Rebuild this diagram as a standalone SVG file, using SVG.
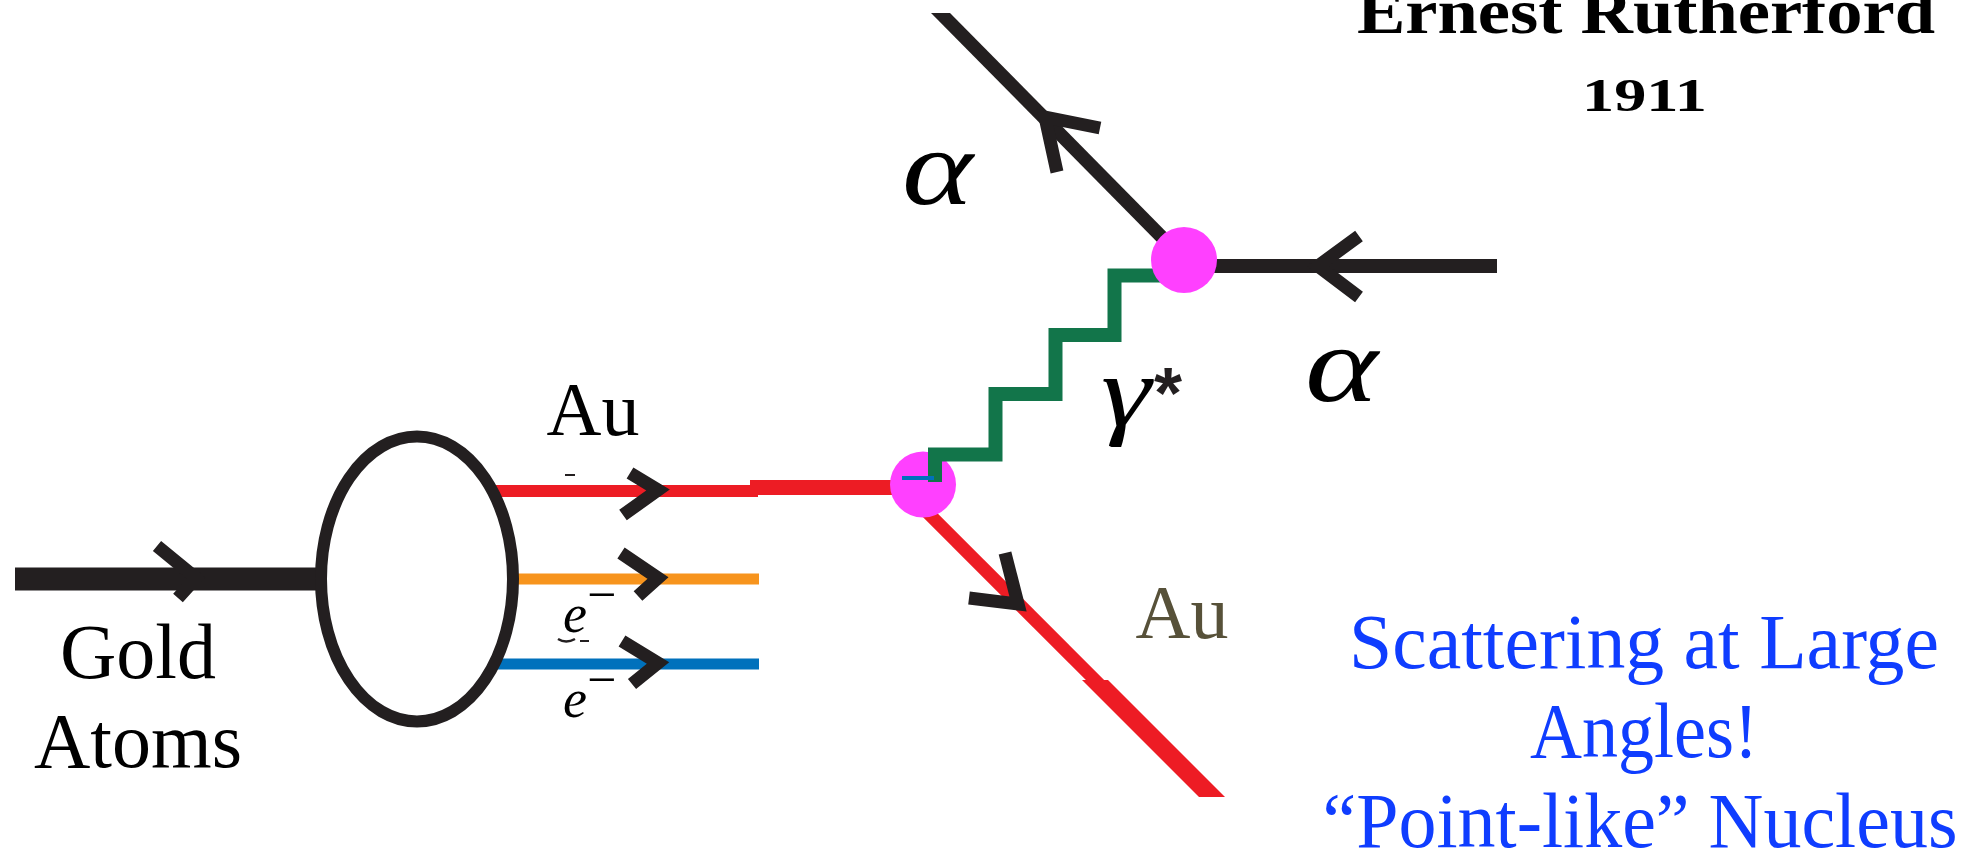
<svg xmlns="http://www.w3.org/2000/svg" width="1968" height="852" viewBox="0 0 1968 852">
  <style>
    .lbl { font-family: "Liberation Serif", "Times New Roman", serif; fill: #000; }
    .math { font-family: "Liberation Serif", "Times New Roman", serif; font-style: italic; fill: #000; }
    .blue { font-family: "Liberation Serif", "Times New Roman", serif; fill: #0f3dff; font-size: 78px; text-anchor: middle; }
    .chev { fill: none; stroke: #231f20; stroke-width: 13; stroke-linejoin: miter; stroke-miterlimit: 10; stroke-linecap: butt; }
    .blk { stroke: #231f20; stroke-linecap: butt; }
    .vtx { fill: #ff40ff; }
  </style>
  <rect width="1968" height="852" fill="#ffffff"/>

  <g id="connectors">
    <!-- incoming gold atom line -->
    <line class="blk" x1="15" y1="579" x2="322" y2="579" stroke-width="23"/>
    <polyline class="chev" points="157,546 196,578 178,598"/>
    <!-- outgoing Au (red) -->
    <line x1="490" y1="491" x2="758" y2="491" stroke="#ed1c24" stroke-width="12"/>
    <line x1="750" y1="487.5" x2="900" y2="487.5" stroke="#ed1c24" stroke-width="15"/>
    <polyline class="chev" points="630,473 658,490 623,515"/>
    <!-- outgoing electrons -->
    <line x1="490" y1="579" x2="759" y2="579" stroke="#f7941d" stroke-width="11"/>
    <polyline class="chev" points="621,553 658,578 638,596"/>
    <line x1="490" y1="664" x2="759" y2="664" stroke="#0071bc" stroke-width="11"/>
    <polyline class="chev" points="622,641 658,663 632,684"/>
    <!-- scattered Au (red diagonal) -->
    <line x1="915" y1="500" x2="1100" y2="685" stroke="#ed1c24" stroke-width="13"/>
    <polygon points="1082,680 1108,680 1225,797 1199,797" fill="#ed1c24"/>
    <polyline class="chev" points="1005,553 1018,604 969,598"/>
    <!-- incoming alpha (right) -->
    <line class="blk" x1="1180" y1="266" x2="1497" y2="266" stroke-width="14"/>
    <polyline class="chev" points="1359,236 1318,266 1359,297"/>
    <!-- outgoing alpha (upper left) -->
    <polygon points="931,13 950,13 1184,250 1165,250" fill="#231f20"/>
    <polyline class="chev" points="1100,128 1045,117 1057,172"/>
    <!-- small residual marks -->
    <line x1="565" y1="475" x2="575" y2="475" stroke="#231f20" stroke-width="2"/>
    <path d="M558,639 Q566,644 575,639" fill="none" stroke="#231f20" stroke-width="2.5"/>
    <line x1="580" y1="641" x2="589" y2="641" stroke="#231f20" stroke-width="2"/>
  </g>

  <g id="atom">
    <ellipse cx="417" cy="579" rx="96" ry="142.5" fill="#ffffff" stroke="#231f20" stroke-width="12"/>
  </g>

  <g id="vertex-lower">
    <circle class="vtx" cx="923" cy="484.5" r="33"/>
  </g>

  <g id="photon">
    <path d="M935,482 V454.5 H995.5 V394 H1055.5 V335 H1114.5 V275.5 H1168" fill="none" stroke="#12754a" stroke-width="14" stroke-linejoin="miter"/>
    <line x1="902" y1="478" x2="934" y2="478" stroke="#0071bc" stroke-width="4"/>
  </g>

  <g id="vertex-upper">
    <circle class="vtx" cx="1184" cy="260" r="33"/>
  </g>

  <g id="labels">
    <text class="lbl" x="138" y="678" font-size="78" text-anchor="middle">Gold</text>
    <text class="lbl" x="138" y="767" font-size="78" text-anchor="middle">Atoms</text>
    <text class="lbl" x="593" y="435" font-size="76" text-anchor="middle">Au</text>
    <text class="math" x="563" y="632" font-size="54">e<tspan font-style="normal" font-size="52" dy="-20">−</tspan></text>
    <text class="math" x="563" y="717" font-size="54">e<tspan font-style="normal" font-size="52" dy="-20">−</tspan></text>
    <text class="lbl" x="1182" y="638" font-size="76" text-anchor="middle" style="fill:#575139">Au</text>
    <text class="math" x="902" y="204" font-size="108" textLength="71" lengthAdjust="spacingAndGlyphs">α</text>
    <text class="math" x="1305" y="401" font-size="108" textLength="73" lengthAdjust="spacingAndGlyphs">α</text>
    <text class="math" x="1101" y="425" font-size="102" textLength="50" lengthAdjust="spacingAndGlyphs">γ</text>
    <text x="1154" y="418" font-size="72" font-weight="bold" style="font-family:'Liberation Sans', Arial, sans-serif; fill:#231f20">*</text>
  </g>

  <g id="title">
    <text class="lbl" x="1357" y="33" font-size="63" font-weight="bold" textLength="578" lengthAdjust="spacingAndGlyphs">Ernest Rutherford</text>
    <text class="lbl" x="1582" y="111" font-size="46" font-weight="bold" textLength="125" lengthAdjust="spacingAndGlyphs">1911</text>
  </g>

  <g id="caption">
    <text class="blue" x="1644" y="668" textLength="590" lengthAdjust="spacingAndGlyphs">Scattering at Large</text>
    <text class="blue" x="1644" y="757" textLength="228" lengthAdjust="spacingAndGlyphs">Angles!</text>
    <text class="blue" x="1640" y="847" textLength="635" lengthAdjust="spacingAndGlyphs">“Point-like” Nucleus</text>
  </g>
</svg>
